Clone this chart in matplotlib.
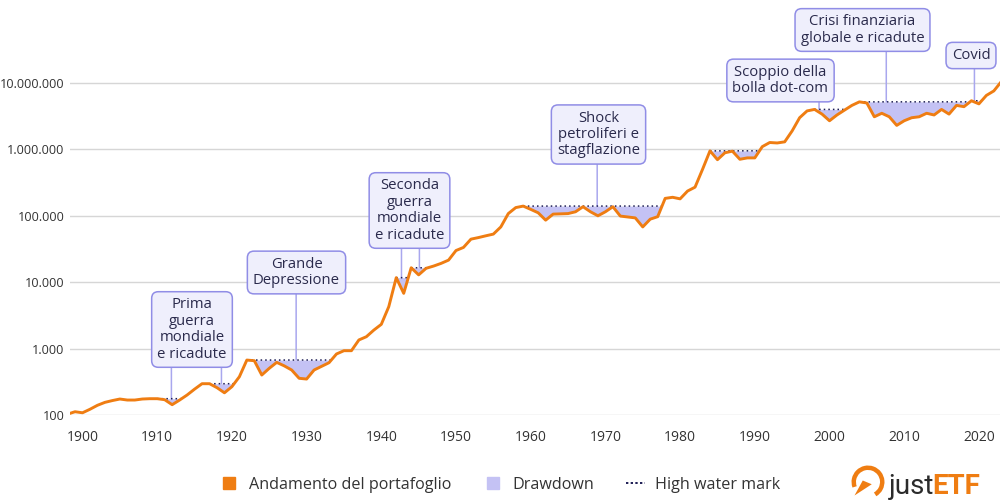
import numpy as np
import matplotlib
matplotlib.use("Agg")
import matplotlib.pyplot as plt
from matplotlib.lines import Line2D
from matplotlib.patches import Arc, Polygon

plt.rcParams['font.family'] = ['Open Sans', 'DejaVu Sans']

# ---------------- data ----------------
years = list(range(1898, 2024))
values = [
    103, 112, 108, 122, 140, 155, 165, 174, 168, 168,            # 1898-1907
    174, 176, 176, 170, 143, 168, 200, 245, 296, 296,            # 1908-1917
    258, 216, 267, 377, 672, 657, 400, 505, 620, 550,            # 1918-1927
    476, 357, 348, 476, 540, 613, 830, 930, 930, 1350,           # 1928-1937
    1510, 1900, 2320, 4280, 11700, 6800, 16500, 12900, 16200, 17500,  # 1938-1947
    19200, 21500, 30000, 33400, 44500, 47000, 50000, 53000, 68000, 108000,  # 1948-1957
    133000, 140000, 125000, 111000, 86000, 106000, 107000, 108000, 115000, 137000,  # 1958-1967
    115000, 100000, 115000, 137000, 99000, 96000, 93000, 68000, 89000, 97000,  # 1968-1977
    183000, 190000, 180000, 236000, 270000, 500000, 950000, 700000, 890000, 940000,  # 1978-1987
    710000, 745000, 745000, 1100000, 1270000, 1250000, 1300000, 1900000, 3000000, 3800000,  # 1988-1997
    4000000, 3400000, 2700000, 3300000, 3900000, 4600000, 5200000, 5000000, 3100000, 3500000,  # 1998-2007
    3100000, 2300000, 2700000, 3000000, 3100000, 3500000, 3300000, 4000000, 3400000, 4600000,  # 2008-2017
    4400000, 5400000, 4850000, 6500000, 7600000, 10500000,       # 2018-2023
]

y_ticks = [100, 1000, 10000, 100000, 1000000, 10000000]
y_tick_labels = ["100", "1.000", "10.000", "100.000", "1.000.000", "10.000.000"]
x_ticks = list(range(1900, 2030, 10))

event_labels = [
    "Prima\nguerra\nmondiale\ne ricadute",
    "Grande\nDepressione",
    "Seconda\nguerra\nmondiale\ne ricadute",
    "Shock\npetroliferi e\nstagflazione",
    "Scoppio della\nbolla dot-com",
    "Crisi finanziaria\nglobale e ricadute",
    "Covid",
]
event_years = [
    [1911.9, 1918.6],
    [1928.6],
    [1942.7, 1945.1],
    [1968.9],
    [1998.6],
    [2007.6],
    [2019.4],
]

legend_labels = ["Andamento del portafoglio", "Drawdown", "High water mark"]

# ---------------- styles ----------------
ORANGE = "#EF7D12"
LAV = "#C4C2F4"
NAVY = "#1E1E55"
BOX_FC = "#EFEFFC"
BOX_EC = "#908DE6"
PTR = "#A9A7EE"
TXT = "#2A2A4C"
GRID = "#D6D6D6"

W, H = 1000, 500
fig = plt.figure(figsize=(10, 5), dpi=100)
ax = fig.add_axes([70 / W, 1 - 415 / H, 930 / W, 415 / H])

yrs = np.array(years, dtype=float)
vals = np.array(values, dtype=float)

ax.set_yscale("log")
ax.set_ylim(100, 10 ** (2 + 415 / 66.4))
ax.set_xlim(1900 - 14 / 7.47 + 0.2, 1900 + 916 / 7.47 + 0.2)

# drawdown computation on a fine grid (straight segments in log space)
t = np.arange(yrs[0], yrs[-1] + 1e-9, 0.01)
lv = np.interp(t, yrs, np.log10(vals))
hwm = np.maximum.accumulate(lv)
under = lv < hwm - 1e-9
thr = -np.log10(1 - 0.08)
i = 0
n = len(t)
while i < n:
    if under[i]:
        j = i
        while j < n and under[j]:
            j += 1
        a, b = max(i - 1, 0), min(j, n - 1)
        if (hwm[a:b + 1] - lv[a:b + 1]).max() > thr:
            ax.fill_between(t[a:b + 1], 10 ** lv[a:b + 1], 10 ** hwm[a:b + 1],
                            color=LAV, lw=0, zorder=2)
            ax.plot(t[a:b + 1], 10 ** hwm[a:b + 1], color=NAVY, lw=1.1,
                    ls=(0, (1, 2)), zorder=3)
        i = j
    else:
        i += 1

ax.plot(yrs, vals, color=ORANGE, lw=2.1, zorder=4, solid_joinstyle="round")

# axes styling
for s in ax.spines.values():
    s.set_visible(False)
ax.set_yticks(y_ticks)
ax.set_yticklabels(y_tick_labels)
ax.yaxis.set_minor_locator(matplotlib.ticker.NullLocator())
ax.set_xticks(x_ticks)
ax.set_xticklabels([str(x) for x in x_ticks])
ax.tick_params(axis="both", length=0, labelcolor="#333333")
ax.tick_params(axis="x", labelsize=10, pad=11)
ax.tick_params(axis="y", labelsize=9.1, pad=4)
ax.grid(axis="y", color=GRID, lw=1, zorder=0)
ax.set_axisbelow(True)

# annotation boxes: (center x px, center y px, bottom y px)
box_pos = [
    (192, 329.5, 367),
    (296.5, 272.5, 294),
    (409.5, 210.5, 248),
    (598.5, 134.5, 163),
    (780.5, 80.5, 101),
    (862.5, 30, 51),
    (971, 55.5, 68),
]
for lab, eys, (cx, cy, by) in zip(event_labels, event_years, box_pos):
    fig.text(cx / W, 1 - cy / H, lab, ha="center", va="center", fontsize=10.7,
             color=TXT, linespacing=1.13, zorder=6,
             bbox=dict(boxstyle="round,pad=0.38,rounding_size=0.45",
                       fc=BOX_FC, ec=BOX_EC, lw=1.1))
    for ey in eys:
        yv = 10 ** np.interp(ey, t, hwm)
        ax.annotate("", xy=(ey, yv), xycoords="data",
                    xytext=(ey, 1 - by / H), textcoords=("data", "figure fraction"),
                    arrowprops=dict(arrowstyle="-", color=PTR, lw=1.1,
                                    shrinkA=0, shrinkB=0),
                    zorder=1, annotation_clip=False)

# legend
handles = [
    Line2D([], [], marker="s", ls="", color=ORANGE, markersize=9),
    Line2D([], [], marker="s", ls="", color=LAV, markersize=9),
    Line2D([], [], color=NAVY, lw=1.4, ls=(0, (1.2, 1.2))),
]
fig.legend(handles, legend_labels, loc="center", bbox_to_anchor=(0.5, 0.03),
           ncol=3, frameon=False, fontsize=11.6, labelcolor="#333333",
           handlelength=1.2, handletextpad=0.6, columnspacing=2.0)

# logo
lax = fig.add_axes([850 / W, 0.0, 36 / W, 36 / H])
lax.set_xlim(-1.2, 1.2)
lax.set_ylim(-1.2, 1.2)
lax.set_aspect("equal")
lax.axis("off")
lax.add_patch(Arc((0, 0), 1.9, 1.9, theta1=-60, theta2=200, color=ORANGE, lw=3.2))
lax.add_patch(Polygon([[-0.9, -0.9], [0.25, -0.15], [-0.35, 0.1]], closed=True,
                      color=ORANGE, lw=0))
fig.text(889 / W, 1 - 486 / H, "just", fontsize=20, color="#2B2B2B",
         ha="left", va="center", family=["Roboto", "DejaVu Sans"])
fig.text(932 / W, 1 - 486 / H, "ETF", fontsize=20, color=ORANGE, fontweight="bold",
         ha="left", va="center", family=["Roboto", "DejaVu Sans"])

fig.savefig("out.png", dpi=100)
